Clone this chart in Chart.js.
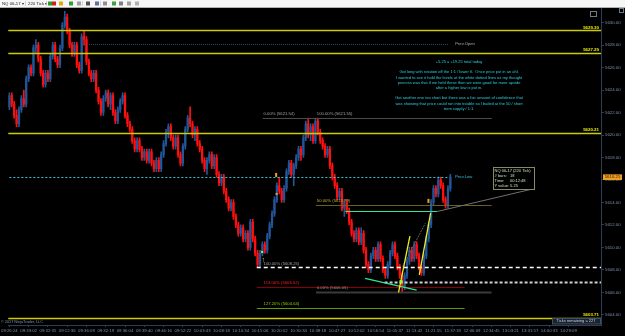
<!DOCTYPE html>
<html><head><meta charset="utf-8">
<script src="https://cdn.jsdelivr.net/npm/chart.js@4/dist/chart.umd.min.js"></script>
<style>html,body{margin:0;padding:0;background:#000;overflow:hidden}</style>
</head><body>
<canvas id="c" width="625" height="336"></canvas>
<script>
const instrument = 'NQ 06-17';
const barType = '220 Tick';
const timeLabels = ['09:26:24','09:33:02','09:32:35','09:12:36','09:36:09','09:32:19','09:36:04','09:39:40','09:46:16','09:52:22','10:03:43','10:08:18','10:10:34','10:15:06','10:20:52','10:30:34','10:38:18','10:47:27','10:52:02','10:56:54','11:05:37','11:13:42','11:21:55','11:37:33','12:06:09','12:34:45','13:03:21','13:31:57','14:00:33','14:29:09'];
const barsPerLabel = 8;
const slotCount = 246;
const priceTicks = [5604,5606,5608,5610,5612,5614,5616,5618,5620,5622,5624,5626,5628,5630];

const opens = [5622.5,5623.5,5622.75,5621.75,5621,5622.25,5623.25,5622.75,5625,5626,
5625.5,5627.75,5628,5626.75,5625.5,5624.5,5625.5,5625,5627,5628,
5626.75,5626.25,5627.75,5629.75,5630.5,5629.25,5628,5627.25,5628,5626.25,
5625.75,5628.75,5628.5,5626.5,5625.5,5625,5625.5,5624,5623,5622,
5623.25,5623.75,5622.75,5623.5,5622,5621.25,5622.25,5623,5623.5,5621.75,
5621,5620.5,5619.5,5618.75,5619.5,5618.75,5618,5618.5,5617.75,5618.5,
5617.5,5617,5617.75,5617,5618.25,5619.25,5620.25,5620.75,5619.75,5619,
5619.75,5618.25,5617.5,5619,5620.5,5621.5,5621,5620,5620.5,5619.25,
5618.75,5617.75,5617,5617.75,5618.25,5617.25,5618,5616.5,5615.75,5616.25,
5615,5614.25,5613.5,5614,5612.75,5612,5611.25,5611.75,5610.75,5611.25,
5610,5612.25,5610.75,5609.5,5608.5,5609.5,5610.25,5609.75,5611,5612,
5613,5614.25,5615.5,5615,5614.25,5615.25,5616.75,5617.5,5616.5,5617.25,
5618,5618.75,5618.25,5619.75,5621,5620,5620.75,5619.5,5621.25,5620.25,
5619.5,5619,5618.25,5618.75,5617.25,5616.25,5615.5,5614.5,5615,5613.5,
5614,5613.25,5612.25,5611.25,5610.75,5611.5,5610.5,5611.25,5609.75,5608.5,
5608,5609.25,5609.75,5609,5610.25,5609,5608,5607.5,5608.5,5609.5,
5610.25,5609.25,5608.25,5607.5,5606.5,5607.5,5608.75,5609.75,5609,5610.25,
5609.25,5608.25,5607.75,5609.25,5610.75,5612,5614,5615.25,5614.75,5616,
5615.5,5614.25,5613.75,5615.25];
const highs = [5623.75,5623.75,5623,5622.25,5622.5,5623.5,5624,5625.25,5626.25,5626.25,
5628,5628.5,5628.25,5627,5625.75,5625.75,5625.75,5627.25,5628.25,5628.25,
5627,5628,5630,5631,5630.75,5629.5,5628.25,5628.25,5628.25,5626.5,
5629,5629.25,5628.75,5626.75,5625.75,5625.75,5625.75,5624.25,5623.25,5623.5,
5624,5624,5623.75,5623.75,5622.25,5622.5,5623.25,5623.75,5623.75,5622,
5621.25,5620.75,5619.75,5619.75,5619.75,5619,5618.75,5618.75,5618.75,5618.75,
5617.75,5618,5618,5618.5,5619.5,5620.5,5621,5621,5620,5620,
5620,5618.5,5619.25,5620.75,5621.75,5622.5,5621.25,5620.75,5620.75,5619.5,
5619,5618,5618,5618.5,5618.5,5618.25,5618.25,5616.75,5616.5,5616.5,
5615.25,5614.5,5614.25,5614.25,5613,5612.25,5612,5612,5611.5,5611.5,
5612.5,5612.5,5611,5609.75,5609.75,5610.5,5610.5,5611.25,5612.25,5613.25,
5614.5,5615.75,5616.25,5615.25,5615.5,5617,5617.75,5617.75,5617.5,5618.25,
5619,5619,5620,5621.25,5621.5,5621,5621,5621.5,5621.5,5620.5,
5619.75,5619.25,5619,5619,5617.5,5616.5,5615.75,5615.25,5615.25,5614.25,
5614.25,5613.5,5612.5,5611.5,5611.75,5611.75,5611.75,5611.5,5610,5608.75,
5609.5,5610,5610,5610.5,5610.5,5609.25,5608.25,5608.75,5609.75,5610.5,
5610.5,5609.5,5608.5,5607.75,5607.75,5609,5610,5610,5610.5,5610.5,
5609.5,5608.5,5609.5,5611,5612.25,5614.25,5615.5,5615.5,5616.25,5616.25,
5615.75,5614.5,5615.5,5616.5];
const lows = [5622.25,5622.5,5621.5,5620.75,5620.75,5622,5622.5,5622.5,5624.75,5625.25,
5625.25,5627.25,5626.5,5625.25,5624.25,5624.25,5624.75,5624.75,5626.75,5626.5,
5626,5626,5627.5,5629.5,5629,5627.75,5627,5627,5626,5625.5,
5625.5,5628,5626.25,5625.25,5624.75,5624.75,5623.75,5622.75,5621.75,5621.75,
5623,5622.5,5622.25,5621.75,5621,5621,5622,5622.75,5621.5,5620.75,
5620.25,5619.25,5618.5,5618.5,5618.5,5617.75,5617.75,5617.5,5617.5,5617.25,
5616.75,5616.75,5616.75,5616.75,5618,5619,5619.75,5619.5,5618.75,5618.75,
5618,5617.25,5617.25,5618.75,5620.25,5620.75,5619.75,5619.5,5619,5618.5,
5617.5,5616.75,5616.5,5617.5,5617,5617,5616.25,5615.5,5615.5,5614.75,
5614,5613.25,5613.25,5612.5,5611.75,5611,5611,5610.5,5610.5,5609.75,
5609.75,5610.5,5609.25,5608.25,5608.25,5609.25,5609.5,5609.5,5610.75,5611.75,
5612.75,5614,5614.75,5614,5614,5615,5616.5,5616.25,5615.5,5617,
5617.75,5617.75,5618,5619.5,5619.75,5619.5,5619.25,5619.25,5620,5619.25,
5618.75,5618,5618,5617,5616,5615.25,5614.25,5614.25,5613.25,5612.75,
5613,5612,5611,5610.5,5610.5,5610.25,5610.25,5609.5,5608.25,5607.75,
5607.75,5609,5608.75,5608.75,5608.75,5607.75,5607.25,5607.25,5608.25,5609.25,
5609,5608,5607.25,5606,5606.25,5607.25,5608.5,5608.75,5608.75,5609,
5608,5607.5,5607.5,5609,5610.5,5611.75,5613.75,5614.5,5614.5,5615.25,
5614,5613.5,5613.5,5615];
const closes = [5623.5,5622.75,5621.75,5621,5622.25,5623.25,5622.75,5625,5626,5625.5,
5627.75,5628,5626.75,5625.5,5624.5,5625.5,5625,5627,5628,5626.75,
5626.25,5627.75,5629.75,5630.5,5629.25,5628,5627.25,5628,5626.25,5625.75,
5628.75,5628.5,5626.5,5625.5,5625,5625.5,5624,5623,5622,5623.25,
5623.75,5622.75,5623.5,5622,5621.25,5622.25,5623,5623.5,5621.75,5621,
5620.5,5619.5,5618.75,5619.5,5618.75,5618,5618.5,5617.75,5618.5,5617.5,
5617,5617.75,5617,5618.25,5619.25,5620.25,5620.75,5619.75,5619,5619.75,
5618.25,5617.5,5619,5620.5,5621.5,5621,5620,5620.5,5619.25,5618.75,
5617.75,5617,5617.75,5618.25,5617.25,5618,5616.5,5615.75,5616.25,5615,
5614.25,5613.5,5614,5612.75,5612,5611.25,5611.75,5610.75,5611.25,5610,
5612.25,5610.75,5609.5,5608.5,5609.5,5610.25,5609.75,5611,5612,5613,
5614.25,5615.5,5615,5614.25,5615.25,5616.75,5617.5,5616.5,5617.25,5618,
5618.75,5618.25,5619.75,5621,5620,5620.75,5619.5,5621.25,5620.25,5619.5,
5619,5618.25,5618.75,5617.25,5616.25,5615.5,5614.5,5615,5613.5,5614,
5613.25,5612.25,5611.25,5610.75,5611.5,5610.5,5611.25,5609.75,5608.5,5608,
5609.25,5609.75,5609,5610.25,5609,5608,5607.5,5608.5,5609.5,5610.25,
5609.25,5608.25,5607.5,5606.5,5607.5,5608.75,5609.75,5609,5610.25,5609.25,
5608.25,5607.75,5609.25,5610.75,5612,5614,5615.25,5614.75,5616,5615.5,
5614.25,5613.75,5615.25,5616.25];

// Horizontal support/resistance levels (yellow)
const levelPrices = [5629.30, 5627.29, 5620.21, 5603.71];
// Prior-session reference lines: [name, price, fromBar, toBar]
const prevLines = [['Prev.Open', 5628.08, 30.6, 182.5], ['Prev.Low', 5616.25, 0, 182.5]];
// Fibonacci tool A (swing 5621.54 -> 5608.25): [label, price, fromBar, toBar, kind]
const fibA = [['0.00%', 5621.54, 105.1, 200.1, 'gray'], ['100.00%', 5608.25, 102.65, 245.5, 'white'], ['113.00%', 5606.52, 102.65, 188.9, 'red'], ['127.20%', 5604.64, 102.65, 188.9, 'green']];
// Fibonacci tool B (5621.55 -> 5606.05)
const fibB = [['100.00%', 5621.55, 127.2, 200.1, 'gray'], ['50.00%', 5613.79, 127.2, 200.1, 'olive'], ['0.00%', 5606.05, 127.2, 200.1, 'dark']];
const whiteDash2 = [5606.96, 155.7, 245.5];
const greenHLine = [5613.25, 139.4, 177.6];
// trend lines [bar1, price1, bar2, price2]
const greenDiag = [147.6, 5607.25, 169.0, 5606.2];
const yellowDiags = [[161.5, 5606.0, 166.2, 5611.0], [170.1, 5607.55, 174.8, 5613.05]];
const grayDiag = [163.2, 5608.3, 172.6, 5612.15];
const ruler = [177.6, 5613.2, 217.1, 5615.2];
const rulerInfo = ['NQ 06-17 (220 Tick)', '# bars:   18', 'Time:     00:12:48', 'Y value: 5.25'];
const noteLines = ['+5.25 = +19.25 total today', '', 'Got long with rotation off the 1:1 / lower tl.  Once price put in an ahl,', 'I wanted to see it hold the levels at the white dotted lines as my thought', 'process was that if we held these then we were good for more upside', 'after a higher low is put in.', '', 'Got another one too short but there was a fair amount of confidence that', 'was showing that price could run into trouble so I bailed at the 50 / short', 'term supply / 1:1.'];
const noteAnchor = [186.6, 5626.5];
const lastPrice = 5616.25;

const UP = '#22569a', DOWN = '#ff1010';
const FONT = "'Liberation Sans', Arial, sans-serif";
const AXC = '#7d92b2';

const cats = Array.from({length: slotCount}, (_, i) => (i % barsPerLabel === 0 && timeLabels[i / barsPerLabel]) ? timeLabels[i / barsPerLabel] : '');
const colors = opens.map((o, i) => closes[i] >= o ? UP : DOWN);
const wickData = highs.map((h, i) => [lows[i], h]);
const bodyData = opens.map((o, i) => [Math.min(o, closes[i]), Math.max(o, closes[i])]);

function line(ctx, x1, y1, x2, y2, color, w, dash) {
  ctx.save(); ctx.strokeStyle = color; ctx.lineWidth = w || 1; ctx.setLineDash(dash || []);
  ctx.beginPath(); ctx.moveTo(x1, y1); ctx.lineTo(x2, y2); ctx.stroke(); ctx.restore();
}
function txt(ctx, s, x, y, color, size, align, bold) {
  ctx.save(); ctx.fillStyle = color; ctx.font = (bold ? 'bold ' : '') + size + 'px ' + FONT;
  ctx.textAlign = align || 'left'; ctx.textBaseline = 'middle'; ctx.fillText(s, x, y); ctx.restore();
}

const bgPlugin = {
  id: 'bg',
  beforeDraw(chart) {
    const ctx = chart.ctx;
    ctx.save();
    ctx.fillStyle = '#000'; ctx.fillRect(0, 0, chart.width, chart.height);
    ctx.fillStyle = '#f6f6f6'; ctx.fillRect(0, 0, chart.width, 7);
    ctx.fillStyle = '#b0b0b0'; ctx.fillRect(0, 7, chart.width, 1);
    txt(ctx, instrument + ' \u25BE', 2, 3.6, '#222', 4.3);
    txt(ctx, barType + ' \u25BE', 28, 3.6, '#222', 4.3);
    ctx.fillStyle = '#bbb'; ctx.fillRect(25, 1, 0.6, 5); ctx.fillRect(46, 1, 0.6, 5); ctx.fillRect(82, 1, 0.6, 5); ctx.fillRect(100, 1, 0.6, 5);
    const icons = [[48, '#2a9a2a'], [52, '#d02020'], [59, '#e0b000'], [69, '#30a030'], [77, '#a0a0a0'], [86, '#505050'], [95, '#6070a0'], [103, '#909090'], [112, '#40a040'], [119, '#808080'], [127, '#a0a0a0'], [135, '#b0b0b0']];
    icons.forEach(([x, c]) => { ctx.fillStyle = c; ctx.fillRect(x, 1.5, 4, 4); });
    ctx.restore();
  }
};

const annPlugin = {
  id: 'ann',
  afterDatasetsDraw(chart) {
    const ctx = chart.ctx, xs = chart.scales.x, ys = chart.scales.y, ca = chart.chartArea;
    const X = v => xs.getPixelForValue(v), Y = p => ys.getPixelForValue(p);
    const r = v => Math.round(v) + 0.5;
    ctx.save();
    ctx.beginPath(); ctx.rect(ca.left, ca.top, ca.right - ca.left, ca.bottom - ca.top); ctx.clip();
    line(ctx, X(prevLines[0][2]), r(Y(prevLines[0][1])), X(prevLines[0][3]), r(Y(prevLines[0][1])), '#34485a', 1, [1, 1]);
    txt(ctx, prevLines[0][0], X(prevLines[0][3]) + 6, Y(prevLines[0][1]), '#a8b0b8', 4.2);
    line(ctx, X(prevLines[1][2]), r(Y(prevLines[1][1])), X(prevLines[1][3]), r(Y(prevLines[1][1])), '#30c8dc', 1, [2, 2]);
    txt(ctx, prevLines[1][0], X(prevLines[1][3]) + 6, Y(prevLines[1][1]), '#30c8dc', 4.2);
    const fibCol = {gray: ['#4a4a4a', '#a0a0a0'], white: ['#ffffff', '#a0a0a0'], red: ['#8a0000', '#ff2020'], green: ['#5a9a00', '#8ad000'], olive: ['#6a6020', '#c0b040'], dark: ['#3a3a3a', '#909090']};
    [...fibA, ...fibB].forEach(f => {
      const [lab, p, a, b, k] = f; const y = Y(p);
      if (k === 'white') line(ctx, X(a), r(y), X(b), r(y), '#ffffff', 1.6, [4, 3]);
      else line(ctx, X(a), r(y), X(b), r(y), fibCol[k][0], k === 'dark' ? 2 : 1);
    });
    fibA.forEach(f => { const [lab, p, a, b, k] = f; txt(ctx, lab + ' (' + p.toFixed(2) + ')', X(105.5), Y(p) - 3.5, fibCol[k][1], 4.2); });
    fibB.forEach(f => { const [lab, p, a, b, k] = f; txt(ctx, lab + ' (' + p.toFixed(2) + ')', X(127.6), Y(p) - 3.5, fibCol[k][1], 4.2); });
    line(ctx, X(whiteDash2[1]), r(Y(whiteDash2[0])), X(whiteDash2[2]), r(Y(whiteDash2[0])), '#d0d0d0', 2, [3, 2]);
    levelPrices.forEach(p => line(ctx, ca.left, r(Y(p)), ca.right, r(Y(p)), '#cccc00', 1.4));
    line(ctx, X(greenHLine[1]), r(Y(greenHLine[0])), X(greenHLine[2]), r(Y(greenHLine[0])), '#30e890', 1.2);
    line(ctx, X(greenDiag[0]), Y(greenDiag[1]), X(greenDiag[2]), Y(greenDiag[3]), '#30e890', 1.2);
    line(ctx, X(grayDiag[0]), Y(grayDiag[1]), X(grayDiag[2]), Y(grayDiag[3]), '#606060', 1, [2, 1]);
    yellowDiags.forEach(d => line(ctx, X(d[0]), Y(d[1]), X(d[2]), Y(d[3]), '#f0f020', 1.3));
    line(ctx, X(ruler[0]), Y(ruler[1]), X(ruler[2]), Y(ruler[3]), '#707070', 1);
    const bx = X(ruler[2]) - 40, by = Y(ruler[3]) - 22;
    ctx.fillStyle = '#000'; ctx.fillRect(bx, by, 41, 22);
    ctx.strokeStyle = '#8a8a60'; ctx.lineWidth = 1; ctx.strokeRect(Math.round(bx) + 0.5, Math.round(by) + 0.5, 41, 22);
    rulerInfo.forEach((s, k) => txt(ctx, s, bx + 2, by + 3.5 + k * 5.1, '#c8e0b8', 4));
    txt(ctx, '\u2191', X(105.3), Y(5608.85), '#a0ff20', 7, 'center', true);
    ctx.fillStyle = '#a0ff20'; ctx.fillRect(X(104.9) - 1, Y(5609.6) - 1, 2, 2);
    ctx.fillRect(X(162.5) - 1.5, Y(5606.96) - 1.5, 3, 3);
    ctx.fillStyle = '#f0a020'; ctx.fillRect(X(110.7) - 1, Y(5616.45) - 2, 2, 4);
    ctx.fillRect(X(110.9) - 1, Y(5614.76) - 1, 2, 2);
    ctx.fillRect(X(173.9) - 1, Y(5614.14) - 2, 2, 4);
    noteLines.forEach((s, k) => { if (s) txt(ctx, s, X(noteAnchor[0]), Y(noteAnchor[1]) + k * 5.2, '#28d0e0', 4, 'center'); });
    ctx.restore();
  },
  afterDraw(chart) {
    const ctx = chart.ctx, ys = chart.scales.y, ca = chart.chartArea;
    const Y = p => ys.getPixelForValue(p);
    levelPrices.forEach(p => txt(ctx, p.toFixed(2), ca.right - 2, Y(p) - 3, '#f0f000', 4.4, 'right', true));
    const y = Y(lastPrice);
    ctx.fillStyle = '#f0a020'; ctx.fillRect(ca.right + 2, y - 2.8, 19, 5.6);
    txt(ctx, lastPrice.toFixed(2), ca.right + 11.5, y, '#402000', 4.3, 'center');
    ctx.strokeStyle = '#6a7a90'; ctx.lineWidth = 1;
    ctx.strokeRect(590.5, 11.5, 6, 5);
    ctx.strokeRect(619.5, 8.5, 4, 4);
    txt(ctx, '\u00A9 2017 NinjaTrader, LLC', 1, ca.bottom - 3.5, '#7d92b2', 3.8);
    ctx.fillStyle = '#1a222c'; ctx.fillRect(552, ca.bottom - 6, 48, 5);
    ctx.strokeStyle = '#405068'; ctx.strokeRect(552.5, ca.bottom - 6.5, 48, 5.5);
    txt(ctx, 'Ticks remaining = 227', 576, ca.bottom - 3.7, '#c8d0dc', 4, 'center');
  }
};

new Chart(document.getElementById('c'), {
  type: 'bar',
  data: {
    labels: cats,
    datasets: [
      {data: wickData, backgroundColor: colors, barThickness: 1, grouped: false, order: 2},
      {data: bodyData, backgroundColor: colors, barThickness: 1.6, grouped: false, order: 1}
    ]
  },
  options: {
    responsive: false, animation: false, devicePixelRatio: 1,
    layout: {padding: {top: 8, left: 0, right: 0, bottom: 0}},
    plugins: {legend: {display: false}, tooltip: {enabled: false}},
    scales: {
      x: {
        type: 'category', offset: true,
        grid: {display: true, drawOnChartArea: false, offset: false, color: '#2b3d58', tickLength: 2},
        border: {color: '#2b3d58'},
        ticks: {autoSkip: false, maxRotation: 0, minRotation: 0, padding: 1, color: AXC, font: {size: 4.3, family: FONT}, callback: v => cats[v]},
        afterBuildTicks: s => { s.ticks = s.ticks.filter(t => cats[t.value] !== ''); },
        afterFit: s => { s.height = 11; }
      },
      y: {
        position: 'right', min: 5603.1, max: 5631.3,
        afterBuildTicks: s => { s.ticks = priceTicks.map(v => ({value: v})); },
        grid: {display: true, drawOnChartArea: false, color: '#2b3d58', tickLength: 3},
        border: {color: '#2b3d58'},
        ticks: {padding: 1, color: AXC, font: {size: 4.3, family: FONT}, callback: v => Number(v).toFixed(2)},
        afterFit: s => { s.width = 24; }
      }
    }
  },
  plugins: [bgPlugin, annPlugin]
});
</script>
</body></html>
